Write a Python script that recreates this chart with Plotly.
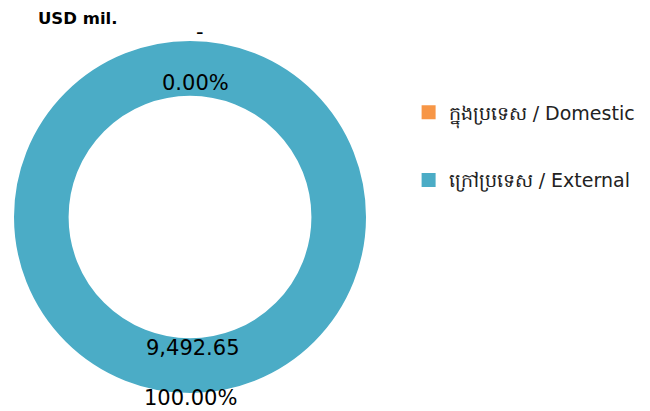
import plotly.graph_objects as go

labels = ["ក្នុងប្រទេស / Domestic", "ក្រៅប្រទេស / External"]
values = [0.0, 9492.65]
colors = ["#F79646", "#4BACC6"]

total = sum(values)
val_text = [f"{v:,.2f}" if v else "-" for v in values]
pct_text = [f"{v / total * 100:.2f}%" for v in values]

W, H = 642, 403  # page adds an 8px body margin

fig = go.Figure()
fig.add_trace(go.Pie(
    labels=labels,
    values=values,
    hole=0.68,
    sort=False,
    direction="clockwise",
    rotation=0,
    marker=dict(colors=colors, line=dict(color="white", width=2)),
    textinfo="none",
    hoverinfo="label+value+percent",
    domain=dict(x=[0.0078, 0.5592], y=[0.0422, 0.9206]),
    showlegend=False,
))

# legend entries, one group each so they can be spaced apart
for i in range(len(labels)):
    fig.add_trace(go.Scatter(
        x=[None], y=[None], mode="markers", name=labels[i],
        marker=dict(symbol="square", size=14, color=colors[i]),
        legendgroup=str(i), hoverinfo="skip",
    ))

font_main = "DejaVu Sans"

# value / percent labels (domestic at top, external at bottom)
pos = [(0.299, 0.94, val_text[0]), (0.2915, 0.813, pct_text[0]),
       (0.2875, 0.156, val_text[1]), (0.285, 0.032, pct_text[1])]
for x, y, t in pos:
    fig.add_annotation(x=x, y=y, xref="paper", yref="paper", text=t, showarrow=False,
                       xanchor="center", yanchor="middle",
                       font=dict(size=21, color="black", family=font_main))

fig.update_layout(
    width=W,
    height=H,
    margin=dict(l=0, r=0, t=0, b=0),
    paper_bgcolor="white",
    plot_bgcolor="white",
    xaxis=dict(visible=False),
    yaxis=dict(visible=False),
    title=dict(text="<b>USD mil.</b>", x=0.0467, xanchor="left", y=0.975, yanchor="middle",
               font=dict(size=16.5, color="black", family=font_main)),
    legend=dict(x=0.624, y=0.788, xanchor="left", yanchor="top",
                font=dict(size=19, color="#222222", family=font_main),
                itemwidth=30, tracegroupgap=40),
)

fig.write_html("out.html")
